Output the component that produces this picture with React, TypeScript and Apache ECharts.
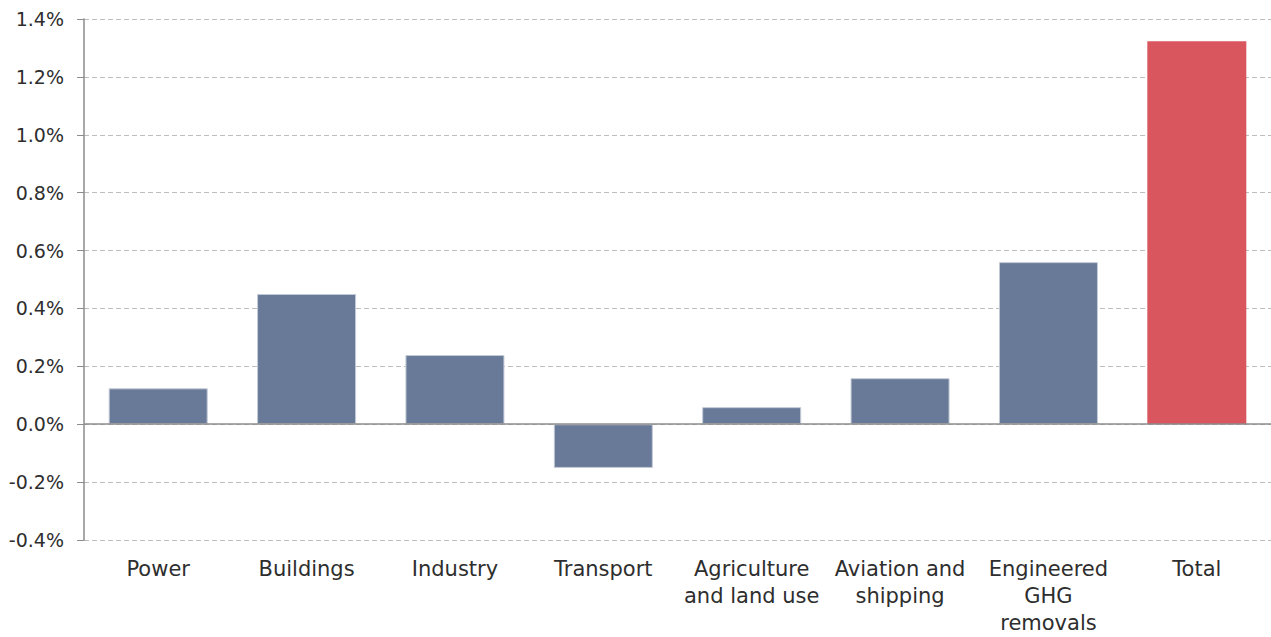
import React, { useEffect, useRef } from "react";
import * as echarts from "echarts";

const categories = [
  "Power",
  "Buildings",
  "Industry",
  "Transport",
  "Agriculture\nand land use",
  "Aviation and\nshipping",
  "Engineered\nGHG\nremovals",
  "Total",
];
const values = [0.124, 0.45, 0.239, -0.151, 0.059, 0.159, 0.56, 1.323];
const isTotal = [false, false, false, false, false, false, false, true];
const yMin = -0.4;
const yMax = 1.4;
const yStep = 0.2;

const FONT = "'DejaVu Sans', Verdana, sans-serif";
const BLUE = "#687a98";
const RED = "#d9565e";

export default function App() {
  const ref = useRef<HTMLDivElement>(null);
  useEffect(() => {
    if (!ref.current) return;
    const chart = echarts.init(ref.current, undefined, { renderer: "svg" });
    chart.setOption({
      animation: false,
      backgroundColor: "#ffffff",
      grid: { left: 84, right: -3, top: 19, bottom: 97, containLabel: false },
      xAxis: {
        type: "category",
        data: categories,
        axisLine: { show: false, onZero: false },
        axisTick: { show: false },
        axisLabel: {
          interval: 0,
          color: "#2e2e2e",
          fontFamily: FONT,
          fontSize: 21,
          lineHeight: 27,
          margin: 15,
          align: "center",
        },
      },
      yAxis: {
        type: "value",
        min: yMin,
        max: yMax,
        interval: yStep,
        axisLine: { show: true, lineStyle: { color: "#8c8c8c", width: 1.5 } },
        axisTick: { show: true, length: 7, lineStyle: { color: "#8c8c8c" } },
        splitLine: { show: true, lineStyle: { color: "#bdbdbd", type: [5, 3], width: 1 } },
        axisLabel: {
          color: "#2e2e2e",
          fontFamily: FONT,
          fontSize: 19,
          margin: 20,
          formatter: (v: number) => `${v.toFixed(1)}%`,
        },
      },
      series: [
        {
          type: "bar",
          barWidth: 99,
          data: values.map((v, i) => ({
            value: v,
            itemStyle: isTotal[i]
              ? { color: RED }
              : { color: BLUE, borderColor: "#c3cad6", borderWidth: 1 },
          })),
          markLine: {
            silent: true,
            symbol: "none",
            label: { show: false },
            lineStyle: { color: "#8c8c8c", type: "solid", width: 1.5 },
            data: [{ yAxis: 0 }],
          },
        },
      ],
    });
    return () => chart.dispose();
  }, []);
  return (
    <div
      ref={ref}
      style={{ position: "fixed", left: 0, top: 0, width: 1271, height: 637 }}
    />
  );
}
